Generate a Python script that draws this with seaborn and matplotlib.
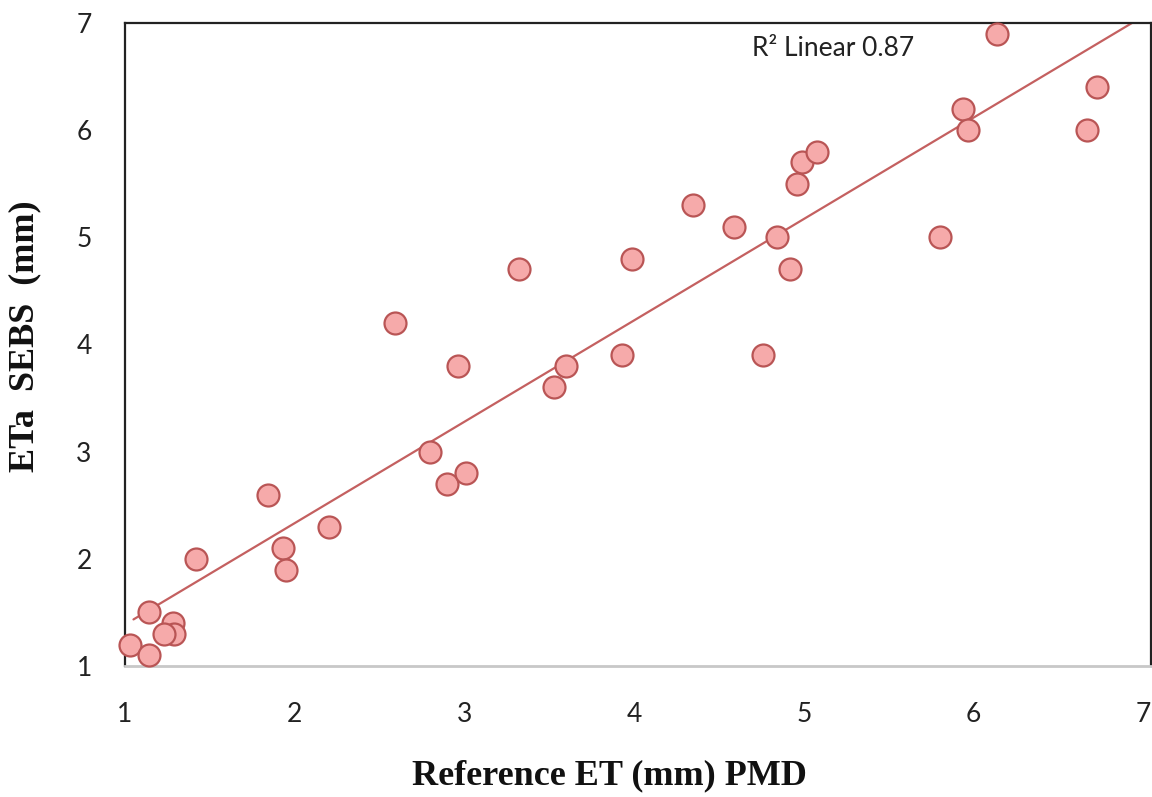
import numpy as np
import pandas as pd
import matplotlib
matplotlib.use('Agg')
import matplotlib.pyplot as plt
import seaborn as sns

# Reference ET (PMD) vs ETa (SEBS)
ref_et = [1.03, 1.14, 1.14, 1.28, 1.29, 1.23, 1.42, 1.84, 1.93, 1.95,
          2.20, 2.59, 2.80, 2.90, 3.01, 2.96, 3.32, 3.53, 3.60, 3.93,
          3.99, 4.35, 4.59, 4.76, 4.84, 4.92, 4.96, 4.99, 5.08, 5.80,
          5.94, 5.97, 6.14, 6.67, 6.73]
eta_sebs = [1.20, 1.10, 1.50, 1.40, 1.30, 1.30, 2.00, 2.60, 2.10, 1.90,
            2.30, 4.20, 3.00, 2.70, 2.80, 3.80, 4.70, 3.60, 3.80, 3.90,
            4.80, 5.30, 5.10, 3.90, 5.00, 4.70, 5.50, 5.70, 5.80, 5.00,
            6.20, 6.00, 6.90, 6.00, 6.40]
ticks = [1, 2, 3, 4, 5, 6, 7]
r2_label = "R\u00b2 Linear 0.87"

df = pd.DataFrame({'ref': ref_et, 'eta': eta_sebs})

sns.set_theme(style='white')
plt.rcParams['font.family'] = ['Lato', 'DejaVu Sans']

fig = plt.figure(figsize=(11.52, 7.97), dpi=100)
ax = fig.add_axes([0.1085, 0.1644, 0.8906, 0.8068])

# trendline (least squares on the points)
slope, intercept = np.polyfit(df['ref'], df['eta'], 1)
xs = np.array([1.05, 7.0])
ax.plot(xs, slope * xs + intercept, color='#C46060', lw=1.6, zorder=2)

sns.scatterplot(data=df, x='ref', y='eta', ax=ax, s=250,
                color='#F6AAAA', edgecolor='#B95555', linewidth=1.6,
                zorder=3, clip_on=False, legend=False)

ax.set_xlim(1, 7.046)
ax.set_ylim(1, 7)
ax.set_xticks(ticks)
ax.set_yticks(ticks)
ax.set_xticklabels([str(t) for t in ticks])
ax.set_yticklabels([str(t) for t in ticks])
ax.tick_params(axis='both', length=0, labelsize=19, labelcolor='#222222')
ax.tick_params(axis='x', pad=26)
ax.tick_params(axis='y', pad=24)

for side in ['left', 'top', 'right']:
    ax.spines[side].set_color('#222222')
    ax.spines[side].set_linewidth(1.6)
ax.spines['bottom'].set_color('#C8C8C8')
ax.spines['bottom'].set_linewidth(2.0)

ax.set_xlabel('Reference ET (mm) PMD', family='Liberation Serif',
              fontweight='bold', fontsize=26, color='#111111')
ax.xaxis.set_label_coords(0.472, -0.145)
ax.set_ylabel('ETa  SEBS  (mm)', family='Liberation Serif',
              fontweight='bold', fontsize=26, color='#111111')
ax.yaxis.set_label_coords(-0.082, 0.513)

ax.text(0.611, 0.961, r2_label, transform=ax.transAxes, fontsize=19,
        ha='left', va='center', color='#222222')

fig.savefig('out.png', dpi=100)
